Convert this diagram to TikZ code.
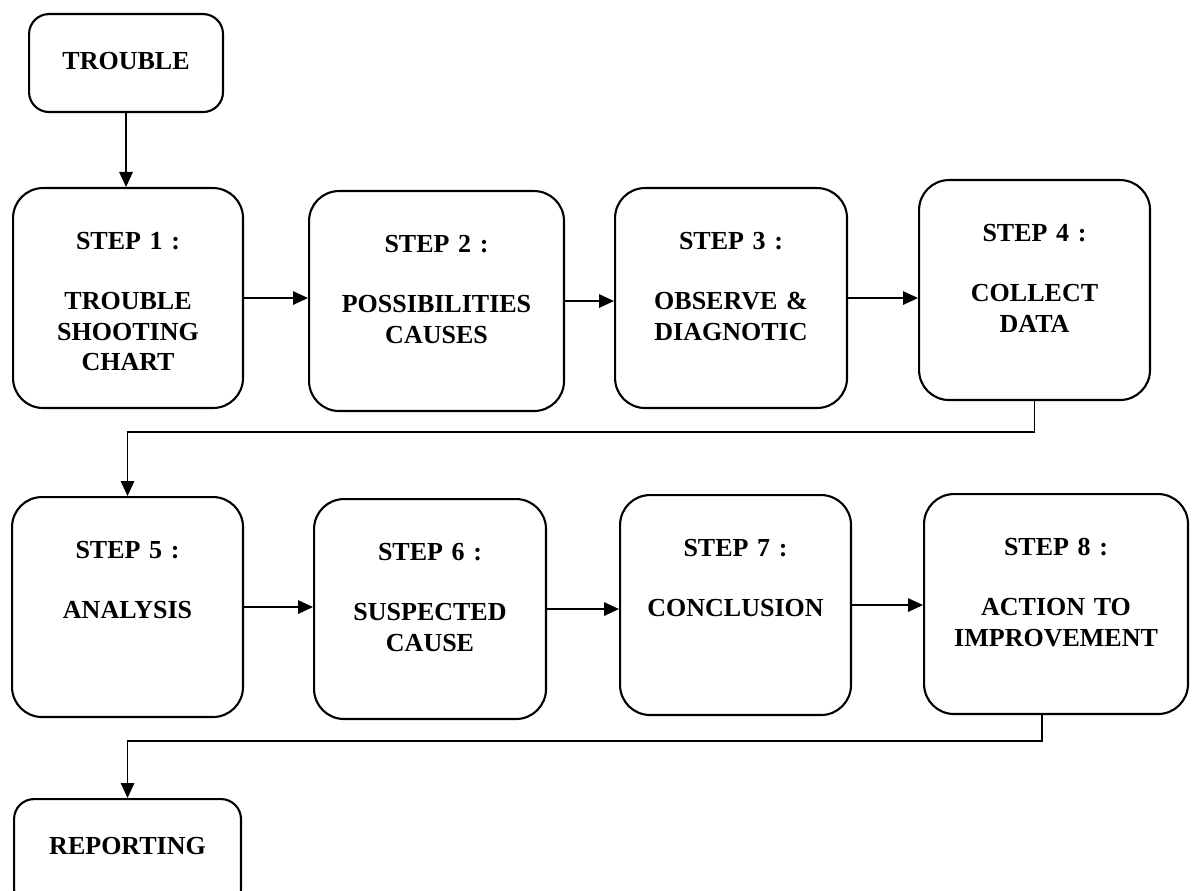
\documentclass[tikz,border=0pt]{standalone}
\usepackage{fontspec}
\setmainfont{Liberation Serif}
\usetikzlibrary{arrows.meta, positioning}
\tikzset{
  stepbox/.style = {draw, line width=1.2pt, rounded corners=0.6cm, inner sep=0pt,
                    align=center, text width=#1, text height=1.22cm, text depth=3.18cm,
                    anchor=north west, font=\bfseries\fontsize{14.8}{17.3}\selectfont},
  endbox/.style  = {stepbox=#1, rounded corners=0.4cm, text height=1.1cm},
  flow/.style    = {-{Triangle[length=3mm, width=2.7mm]}, line width=0.85pt},
}

\begin{document}
\begin{tikzpicture}[x=0.02cm, y=-0.02cm]
  \useasboundingbox (0,0) rectangle (1192,891);
  % first row
  \node[endbox=3.88cm, text depth=0.86cm] (trouble) at (28,13) {TROUBLE};
  \node[stepbox=4.6cm]  (s1) at (12,187)  {STEP 1 :\\[17.3pt]TROUBLE\\SHOOTING\\CHART};
  \node[stepbox=5.1cm]  (s2) at (308,190) {STEP 2 :\\[17.3pt]POSSIBILITIES\\CAUSES};
  \node[stepbox=4.64cm] (s3) at (614,187) {STEP 3 :\\[17.3pt]OBSERVE \&\\DIAGNOTIC};
  \node[stepbox=4.62cm] (s4) at (918,179) {STEP 4 :\\[17.3pt]COLLECT\\DATA};
  % second row
  \node[stepbox=4.62cm] (s5) at (11,496)  {STEP 5 :\\[17.3pt]ANALYSIS};
  \node[stepbox=4.64cm] (s6) at (313,498) {STEP 6 :\\[17.3pt]SUSPECTED\\CAUSE};
  \node[stepbox=4.62cm] (s7) at (619,494) {STEP 7 :\\[17.3pt]CONCLUSION};
  \node[stepbox=5.28cm] (s8) at (923,493) {STEP 8 :\\[17.3pt]ACTION TO\\IMPROVEMENT};
  \node[endbox=4.54cm, text depth=1.1cm] (report) at (13,798) {REPORTING};
  % arrows
  \draw[flow] (trouble) -- (trouble |- s1.north);
  \draw[flow] (s1) -- (s1 -| s2.west);
  \draw[flow] (s2) -- (s2 -| s3.west);
  \draw[flow] (s3) -- (s3 -| s4.west);
  \draw[flow] (s4.south) -- ++(0,31) -| (s5.north);
  \draw[flow] (s5) -- (s5 -| s6.west);
  \draw[flow] (s6) -- (s6 -| s7.west);
  \draw[flow] (s7) -- (s7 -| s8.west);
  \draw[flow] ([xshift=-0.28cm]s8.south) -- ++(0,26) -| (report.north);
\end{tikzpicture}
\end{document}
